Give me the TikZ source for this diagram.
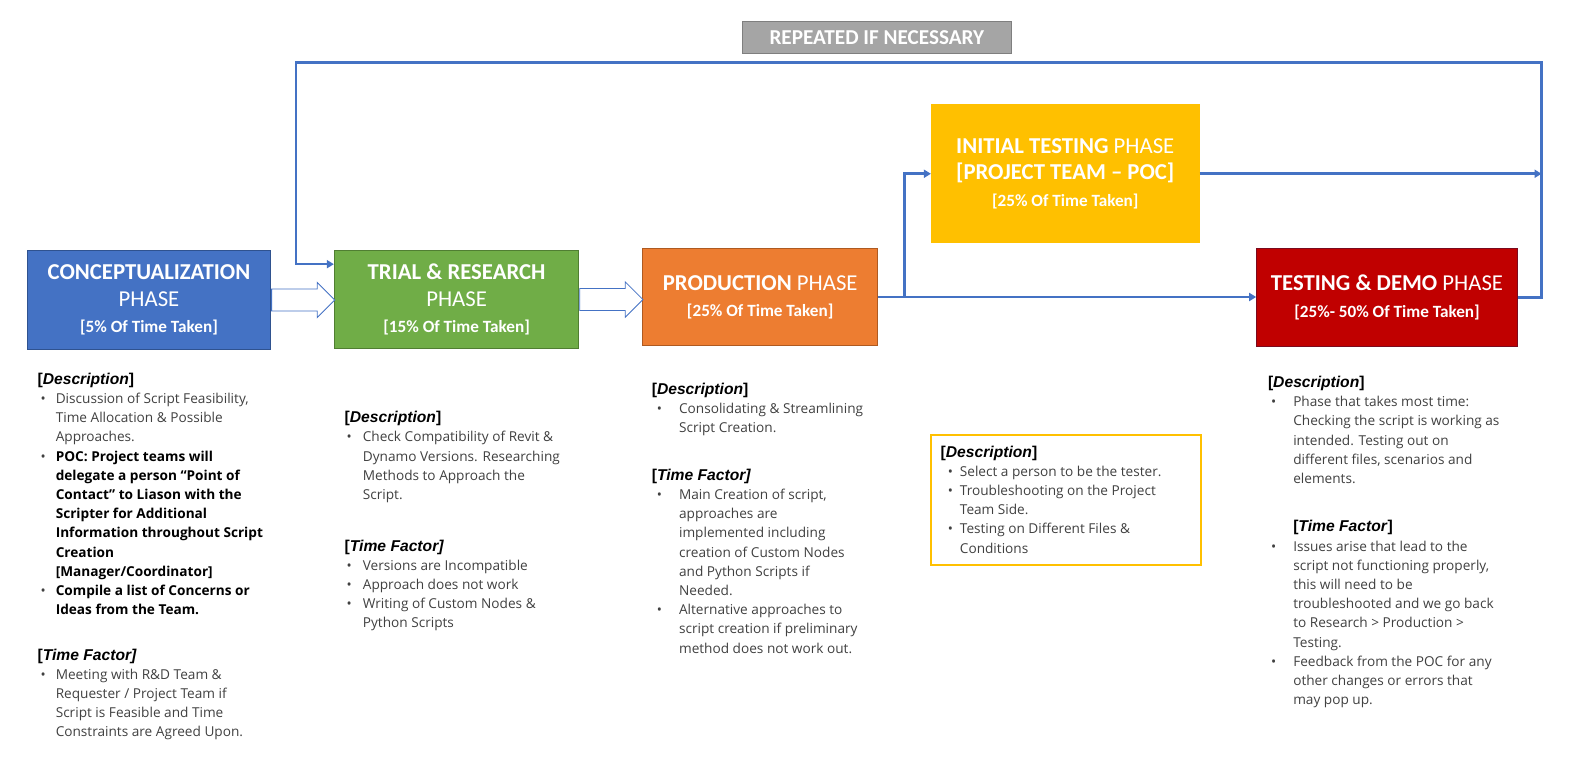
\documentclass[tikz,border=0pt]{standalone}
\usepackage{fontspec}
\setmainfont{Open Sans}
\newfontfamily\boxfont{Carlito}
\newfontfamily\headfont{Liberation Sans}
\usepackage{xcolor}
\usetikzlibrary{arrows.meta,shapes.arrows,calc}

\definecolor{conblue}{HTML}{4472C4}
\definecolor{conedge}{HTML}{2F528F}
\definecolor{trigreen}{HTML}{70AD47}
\definecolor{triedge}{HTML}{507E32}
\definecolor{proorange}{HTML}{ED7D31}
\definecolor{proedge}{HTML}{AE5A21}
\definecolor{iniyellow}{HTML}{FFC000}
\definecolor{tstred}{HTML}{C00000}
\definecolor{tstedge}{HTML}{7A0A1E}
\definecolor{labgray}{HTML}{A5A5A5}
\definecolor{labedge}{HTML}{7F7F7F}
\definecolor{bodygray}{HTML}{404040}

\newcommand{\notefont}{\fontsize{13.5}{19}\selectfont}
\newcommand{\headstyle}{\color{black}\headfont\fontsize{15.5}{19}\selectfont\bfseries}
\newcommand{\keyline}[1]{{\color{black}\bfseries #1}}
\newcommand{\bigline}{\fontsize{22.5}{26}\selectfont}
\newcommand{\smallline}[1]{{\fontsize{17}{22}\selectfont\bfseries #1}}

\tikzset{
  phase/.style={draw, line width=1pt, align=center, text=white, inner sep=0pt, font=\boxfont\bigline},
  hollow/.style={single arrow, draw=conblue, fill=white, line width=0.8pt, minimum height=62.5, single arrow head extend=6.5, inner xsep=0pt, inner ysep=10.5pt, anchor=tail},
  flow/.style={draw=conblue, line width=2.5pt, -{Triangle[length=7pt,width=8pt]}},
  notes/.style={anchor=north west, inner sep=0pt, font=\notefont, text=bodygray}
}

\begin{document}
\begin{tikzpicture}[x=1pt,y=-1pt]
\useasboundingbox (0,0) rectangle (1568,760);

\node[fill=labgray, draw=labedge, line width=0.8pt, minimum width=266, minimum height=31, inner sep=0pt, text=white, font=\boxfont\fontsize{21}{24}\selectfont\bfseries] (rep) at (868,37) {REPEATED IF NECESSARY};

\node[phase, fill=conblue, draw=conedge, minimum width=241, minimum height=98] (con) at (147.5,297) {{\bfseries CONCEPTUALIZATION}\\PHASE\\\smallline{[5\% Of Time Taken]}};
\node[phase, fill=trigreen, draw=triedge, minimum width=242, minimum height=97] (tri) at (452,296.5) {{\bfseries TRIAL \& RESEARCH}\\PHASE\\\smallline{[15\% Of Time Taken]}};
\node[phase, fill=proorange, draw=proedge, minimum width=233, minimum height=96] (pro) at (752.5,294) {{\bfseries PRODUCTION} PHASE\\\smallline{[25\% Of Time Taken]}};
\node[phase, fill=iniyellow, draw=iniyellow, minimum width=265, minimum height=137] (ini) at (1054.5,172) {{\bfseries INITIAL TESTING} PHASE\\{\bfseries [PROJECT TEAM – POC]}\\\smallline{[25\% Of Time Taken]}};
\node[phase, fill=tstred, draw=tstedge, minimum width=258, minimum height=97] (tst) at (1373,294.5) {{\bfseries TESTING \& DEMO} PHASE\\\smallline{[25\%- 50\% Of Time Taken]}};

\node[hollow] (a1) at (con.east) {};
\node[hollow] (a2) at (tri.east) {};

\coordinate (split) at ($(pro.east)+(26,0)$);
\coordinate (loopR) at (1526,62);
\coordinate (loopL) at (293,62);
\draw[flow] (pro.east) -- (pro.east -| tst.west);
\draw[flow] (split) |- (ini.west);
\draw[flow] (ini.east) -- (ini.east -| loopR);
\draw[flow] (tst.east) -| (loopR) -- (loopL) |- ($(tri.north west)+(0,14)$);

\node[notes] (con-desc) at (37,367) {\begin{tabular}{@{\hspace{3pt}}p{15pt}@{}l@{}}
\multicolumn{2}{@{}l@{}}{\headstyle[\textit{Description}]}\\
\textbullet & Discussion of Script Feasibility,\\
 & Time Allocation \& Possible\\
 & Approaches.\\
\textbullet & \keyline{POC: Project teams will}\\
 & \keyline{delegate a person “Point of}\\
 & \keyline{Contact” to Liason with the}\\
 & \keyline{Scripter for Additional}\\
 & \keyline{Information throughout Script}\\
 & \keyline{Creation}\\
 & \keyline{[Manager/Coordinator]}\\
\textbullet & \keyline{Compile a list of Concerns or}\\
 & \keyline{Ideas from the Team.}
\end{tabular}};
\node[notes] (con-time) at (37,640) {\begin{tabular}{@{\hspace{3pt}}p{15pt}@{}l@{}}
\multicolumn{2}{@{}l@{}}{\headstyle[\textit{Time Factor]}}\\
\textbullet & Meeting with R\&D Team \&\\
 & Requester / Project Team if\\
 & Script is Feasible and Time\\
 & Constraints are Agreed Upon.
\end{tabular}};

\node[notes] (tri-desc) at (341,405) {\begin{tabular}{@{\hspace{2pt}}p{16pt}@{}l@{}}
\multicolumn{2}{@{}l@{}}{\headstyle[\textit{Description}]}\\
\textbullet & Check Compatibility of Revit \&\\
 & Dynamo Versions. Researching\\
 & Methods to Approach the\\
 & Script.
\end{tabular}};
\node[notes] (tri-time) at (341,532) {\begin{tabular}{@{\hspace{2pt}}p{16pt}@{}l@{}}
\multicolumn{2}{@{}l@{}}{\headstyle[\textit{Time Factor]}}\\
\textbullet & Versions are Incompatible\\
\textbullet & Approach does not work\\
\textbullet & Writing of Custom Nodes \&\\
 & Python Scripts
\end{tabular}};

\node[notes] (pro-desc) at (645,377) {\begin{tabular}{@{\hspace{5pt}}p{22pt}@{}l@{}}
\multicolumn{2}{@{}l@{}}{\headstyle[\textit{Description}]}\\
\textbullet & Consolidating \& Streamlining\\
 & Script Creation.
\end{tabular}};
\node[notes] (pro-time) at (645,462) {\begin{tabular}{@{\hspace{5pt}}p{22pt}@{}l@{}}
\multicolumn{2}{@{}l@{}}{\headstyle[\textit{Time Factor]}}\\
\textbullet & Main Creation of script,\\
 & approaches are\\
 & implemented including\\
 & creation of Custom Nodes\\
 & and Python Scripts if\\
 & Needed.\\
\textbullet & Alternative approaches to\\
 & script creation if preliminary\\
 & method does not work out.
\end{tabular}};

\node[draw=iniyellow, line width=2pt, minimum width=267, minimum height=128, inner sep=0pt, anchor=north west] (ini-frame) at (921,430) {};
\node[notes] (ini-desc) at ($(ini-frame.north west)+(10,9)$) {\begin{tabular}{@{\hspace{7pt}}p{12pt}@{}l@{}}
\multicolumn{2}{@{}l@{}}{\headstyle[\textit{Description}]}\\
\textbullet & Select a person to be the tester.\\
\textbullet & Troubleshooting on the Project\\
 & Team Side.\\
\textbullet & Testing on Different Files \&\\
 & Conditions
\end{tabular}};

\node[notes] (tst-desc) at (1255,370) {\begin{tabular}{@{\hspace{3pt}}p{22pt}@{}l@{}}
\multicolumn{2}{@{}l@{}}{\headstyle[\textit{Description}]}\\
\textbullet & Phase that takes most time:\\
 & Checking the script is working as\\
 & intended. Testing out on\\
 & different files, scenarios and\\
 & elements.
\end{tabular}};
\node[notes] (tst-time) at (1255,513) {\begin{tabular}{@{\hspace{3pt}}p{22pt}@{}l@{}}
 & {\headstyle[\textit{Time Factor}]}\\
\textbullet & Issues arise that lead to the\\
 & script not functioning properly,\\
 & this will need to be\\
 & troubleshooted and we go back\\
 & to Research > Production >\\
 & Testing.\\
\textbullet & Feedback from the POC for any\\
 & other changes or errors that\\
 & may pop up.
\end{tabular}};
\end{tikzpicture}
\end{document}
